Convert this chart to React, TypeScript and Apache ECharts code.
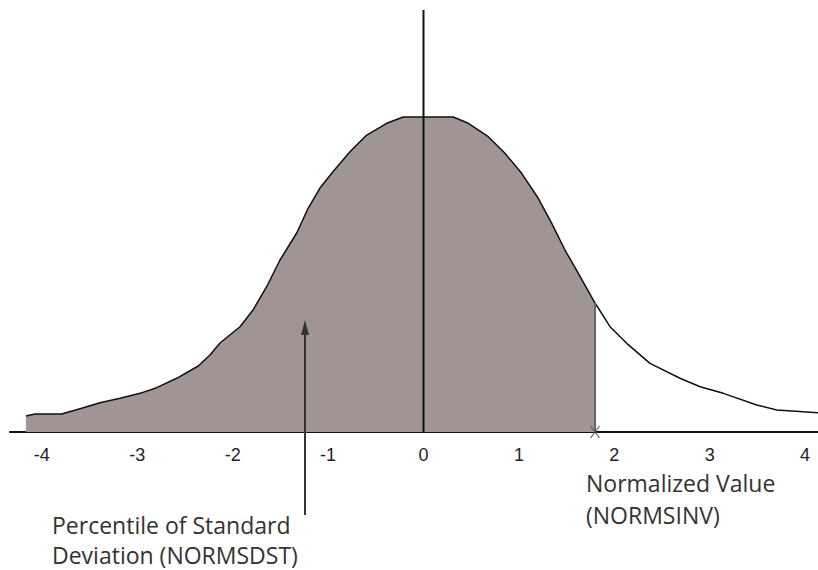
import React, { useEffect, useRef } from "react";
import * as echarts from "echarts";

// Curve (x in standard deviations, y density-like)
const curveX = [
  -4.167, -4.072, -3.792, -3.583, -3.391, -3.181, -2.972, -2.797, -2.587, -2.361,
  -2.238, -2.133, -1.923, -1.787, -1.644, -1.504, -1.329, -1.208, -1.085, -0.949,
  -0.771, -0.595, -0.386, -0.212, 0.312, 0.47, 0.679, 0.854, 1.029, 1.203,
  1.344, 1.483, 1.623, 1.798, 1.955, 2.13, 2.374, 2.689, 2.899, 3.143,
  3.493, 3.702, 4.135,
];
const curveY = [
  0.0203, 0.0229, 0.0229, 0.0301, 0.0372, 0.0428, 0.0491, 0.0563, 0.0682, 0.0838,
  0.0978, 0.113, 0.1337, 0.1549, 0.1845, 0.2184, 0.2527, 0.2844, 0.3098, 0.3305,
  0.3559, 0.3771, 0.392, 0.4, 0.4, 0.392, 0.375, 0.3539, 0.3285, 0.2968,
  0.265, 0.2311, 0.2015, 0.1638, 0.1337, 0.1126, 0.0872, 0.0682, 0.0575, 0.0491,
  0.0343, 0.0279, 0.0245,
];
const tickLabels = [-4, -3, -2, -1, 0, 1, 2, 3, 4];
const shadeEnd = 1.798; // normalized value (NORMSINV)
const arrowX = -1.242;
const arrowBottom = -0.1054;
const arrowHead = 0.1327;
const xMin = -4.334;
const xMax = 4.135;
const yMin = 0;
const yMax = 0.5359;
const annotLeft = ["Percentile of Standard", "Deviation (NORMSDST)"];
const annotRight = ["Normalized Value", "(NORMSINV)"];

export default function App() {
  const ref = useRef<HTMLDivElement>(null);
  useEffect(() => {
    document.body.style.margin = "0";
    if (!ref.current) return;
    const chart = echarts.init(ref.current, null, { renderer: "svg" });
    const full = curveX.map((x, i) => [x, curveY[i]]);
    const shaded = full.filter((p) => p[0] <= shadeEnd + 1e-9);
    const shadeTop = curveY[curveX.indexOf(shadeEnd)];
    const font = '23px "Open Sans"';
    chart.setOption({
      animation: false,
      backgroundColor: "#ffffff",
      grid: { left: 10, right: 0, top: 10, bottom: 138, outerBoundsMode: "none", containLabel: false },
      xAxis: {
        type: "value",
        min: xMin,
        max: xMax,
        axisLine: { show: true, onZero: false, lineStyle: { color: "#111", width: 2 } },
        axisTick: { show: false },
        splitLine: { show: false },
        axisLabel: {
          customValues: tickLabels,
          color: "#222",
          fontFamily: "Liberation Sans",
          fontSize: 18,
          margin: 14,
        },
      },
      yAxis: {
        type: "value",
        min: yMin,
        max: yMax,
        show: false,
        splitLine: { show: false },
      },
      series: [
        {
          type: "line",
          data: shaded,
          symbol: "none",
          lineStyle: { width: 0 },
          areaStyle: { color: "#a09494", opacity: 1 },
          z: 1,
        },
        {
          type: "line",
          data: full,
          symbol: "none",
          lineStyle: { color: "#111", width: 1.5 },
          z: 2,
        },
        {
          type: "line",
          data: [[0, 0], [0, yMax]],
          symbol: "none",
          lineStyle: { color: "#111", width: 2 },
          z: 3,
        },
        {
          type: "line",
          data: [[shadeEnd, 0], [shadeEnd, shadeTop]],
          symbol: "none",
          lineStyle: { color: "#666", width: 2 },
          z: 3,
        },
        {
          type: "line",
          clip: false,
          data: [
            { value: [arrowX, arrowBottom], symbol: "none" },
            { value: [arrowX, arrowHead], symbol: "triangle", symbolSize: [8, 15] },
          ],
          showSymbol: true,
          lineStyle: { color: "#333", width: 2 },
          itemStyle: { color: "#333" },
          z: 4,
        },
        {
          type: "scatter",
          clip: false,
          data: [[shadeEnd, 0]],
          symbol: "path://M0,0L10,12M10,0L0,12",
          symbolSize: [9, 12],
          itemStyle: { color: "none", borderColor: "#555", borderWidth: 1.5 },
          z: 5,
        },
      ],
      graphic: [
        ...annotLeft.map((t, i) => ({
          type: "text",
          x: 52,
          y: 525 + i * 30,
          style: { text: t, fill: "#333", font, verticalAlign: "middle" },
        })),
        ...annotRight.map((t, i) => ({
          type: "text",
          x: 586,
          y: 483 + i * 32,
          style: { text: t, fill: "#333", font, verticalAlign: "middle" },
        })),
      ],
    });
    return () => chart.dispose();
  }, []);
  return <div ref={ref} style={{ width: 818, height: 570 }} />;
}
